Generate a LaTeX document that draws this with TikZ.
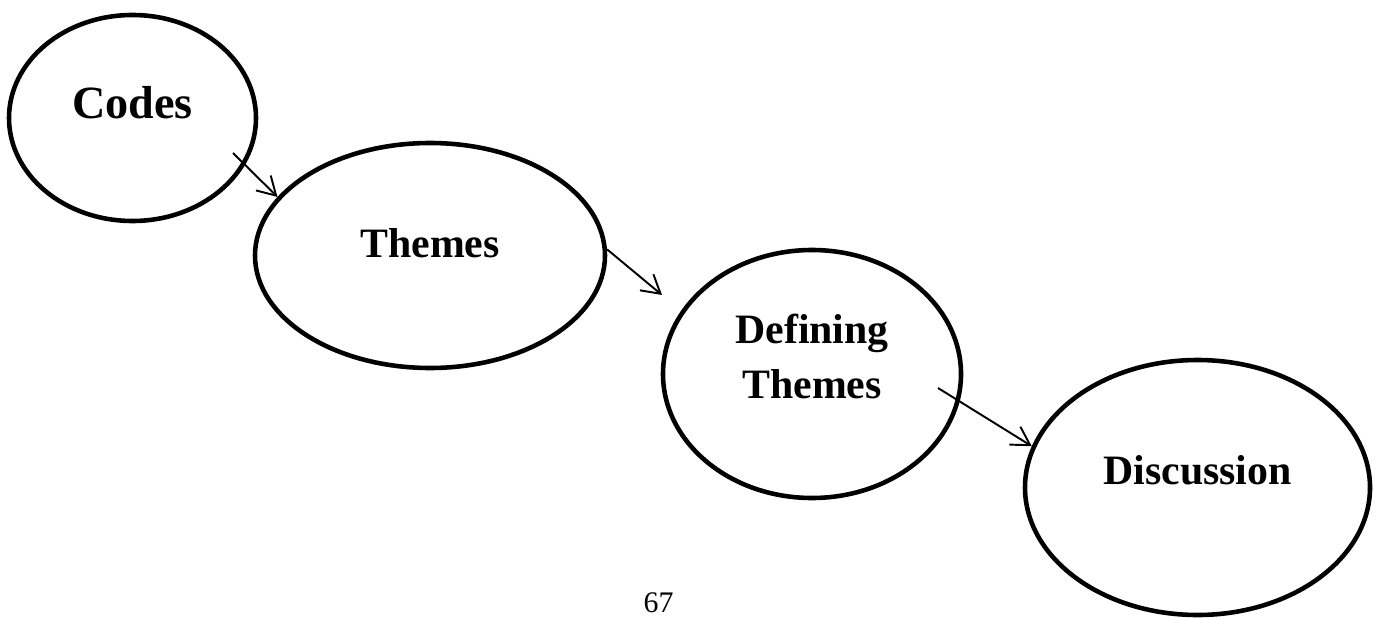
\documentclass[tikz,border=0pt]{standalone}
\usepackage{fontspec}
\setmainfont{Liberation Serif}
\usetikzlibrary{arrows.meta,shapes.geometric,positioning}

\begin{document}
\begin{tikzpicture}[
    bubble/.style={ellipse,draw=black,line width=2.6pt,inner sep=0pt},
    bubtext/.style={font=\fontsize{23.8}{31.8}\selectfont\bfseries,align=center,inner sep=0pt,yshift=0.3cm},
    arrow/.style={-{Straight Barb[length=0.36cm,width=0.42cm]},line width=1.1pt},
]
\useasboundingbox (0,0) rectangle (27.6,-12.36);
\node[bubble,minimum width=4.94cm,minimum height=4.12cm,label={[bubtext,font=\fontsize{26.3}{32}\selectfont\bfseries]center:Codes}](codes)at(2.65,-2.36){};
\node[bubble,minimum width=7.0cm,minimum height=4.5cm,label={[bubtext,yshift=-0.05cm]center:Themes}](themes)at(8.6,-5.11){};
\node[bubble,minimum width=5.96cm,minimum height=4.96cm,label={[bubtext,yshift=0.05cm]center:Defining\\Themes}](defining)at(16.24,-7.48){};
\node[bubble,minimum width=6.9cm,minimum height=5.1cm,label={[bubtext,yshift=0.05cm]center:Discussion}](discussion)at(23.95,-9.75){};
\coordinate (c1) at (4.66,-3.06);
\coordinate (t2) at (13.24,-5.9);
\coordinate (c3) at (18.76,-7.76);
\draw[arrow](c1)--(themes.159);
\draw[arrow](themes.2)--(t2);
\draw[arrow](c3)--(discussion.166);
\node[font=\fontsize{17}{20}\selectfont,inner sep=0pt](pagenum)at(13.17,-12.06){67};
\end{tikzpicture}
\end{document}
